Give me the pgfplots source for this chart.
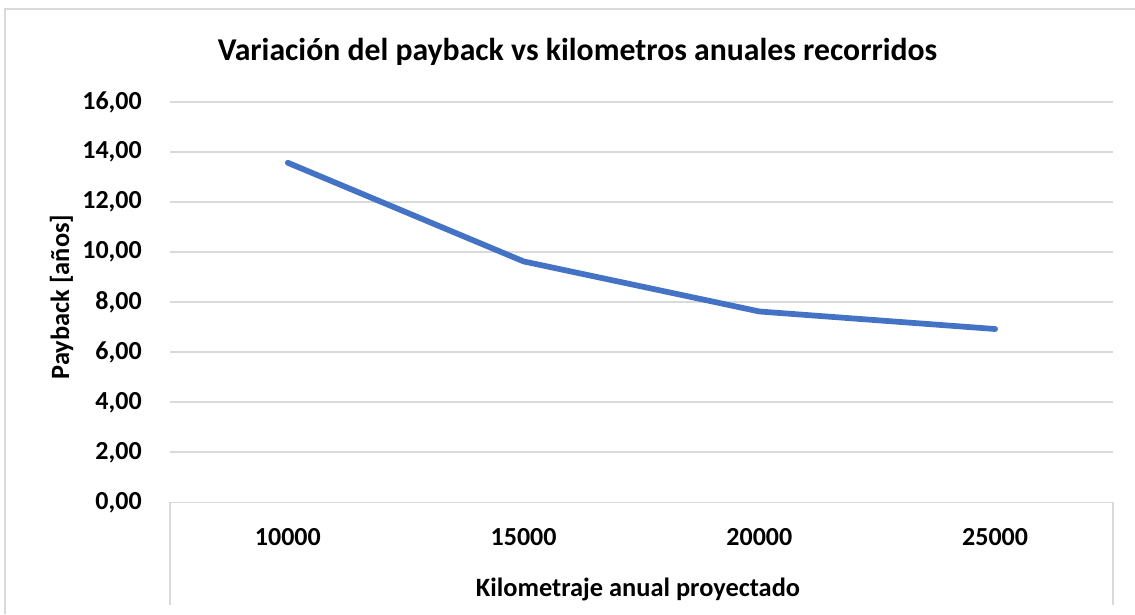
\documentclass[border=0pt]{standalone}
\usepackage{fontspec}
\setmainfont{Carlito}
\usepackage{pgfplots}
\pgfplotsset{compat=1.18}
\definecolor{linecol}{HTML}{4472C4}
\definecolor{gridcol}{HTML}{D9D9D9}
\begin{document}
\begin{tikzpicture}[x=0.75pt,y=0.75pt]
\useasboundingbox (0,0) rectangle (1135,614);
\clip (0,0) rectangle (1135,614);
\fill[white] (0,0) rectangle (1135,614);
\draw[gridcol, line width=1.5pt] (5,0) -- (5,605) -- (1135,605);
\begin{axis}[
  at={(127.5pt,83.625pt)}, anchor=south west,
  scale only axis,
  width=707.25pt, height=300.4pt,
  xmin=-0.5, xmax=3.5,
  ymin=0, ymax=16,
  xtick={0,1,2,3},
  xticklabels={10000,15000,20000,25000},
  ytick={0,2,...,16},
  axis line style={draw=none},
  major tick length=0pt,
  ymajorgrids,
  grid style={gridcol, line width=1.4pt},
  /pgf/number format/.cd, fixed, fixed zerofill, precision=2, use comma, assume math mode=true,
  /pgfplots/.cd,
  ticklabel style={font=\fontsize{19.5}{23}\selectfont\bfseries, inner sep=0pt},
  yticklabel style={anchor=east, xshift=-21pt},
  xticklabel style={anchor=north, yshift=-19pt},
  clip=false,
]
\addplot[linecol, line width=4.3pt, line cap=round, line join=round] coordinates {
  (0,13.57) (1,9.63) (2,7.63) (3,6.93)
};
\end{axis}
\draw[gridcol, line width=1.5pt] (170,111.5) -- (170,9);
\draw[gridcol, line width=1.5pt] (1113.3,111.5) -- (1113.3,9);
\node[anchor=base, inner sep=0pt, font=\fontsize{23.8}{28}\selectfont\bfseries] at (577.5,553) {Variación del payback vs kilometros anuales recorridos};
\node[anchor=base, inner sep=0pt, font=\fontsize{19.8}{23}\selectfont\bfseries] at (638,17) {Kilometraje anual proyectado};
\node[anchor=base, inner sep=0pt, rotate=90, font=\fontsize{19.8}{23}\selectfont\bfseries] at (69,317) {Payback [años]};
\end{tikzpicture}
\end{document}
